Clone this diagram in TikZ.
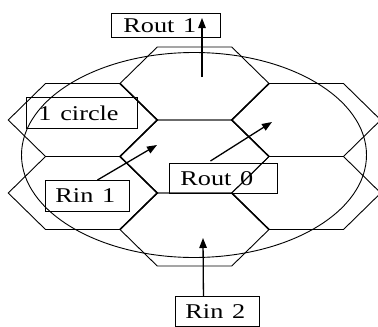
\documentclass[tikz,border=0pt]{standalone}
\usepackage{fontspec}
\setmainfont{Liberation Serif}
\usetikzlibrary{arrows.meta,calc}
\begin{document}
\begin{tikzpicture}[x=1pt,y=-1pt,
  hexline/.style={line width=0.9pt, line join=miter},
  cellwall/.style={line width=1.5pt, line join=miter},
  labelbox/.style={draw, line width=0.9pt, rectangle, anchor=north west,
    inner ysep=0pt, align=left, font=\fontsize{21}{23}\selectfont},
  pointer/.style={line width=1.3pt, -{Triangle[length=10pt,width=7.5pt]}},
]
\useasboundingbox (0,0) rectangle (378,327);

% honeycomb of seven flattened hexagonal cells
\foreach \cx/\cy in {194.5/156.5, 194.5/83.5, 194.5/229.5,
                     82.75/120, 82.75/193, 306.25/120, 306.25/193}
  \draw[hexline] (\cx-74.5,\cy) -- (\cx-37.25,\cy-36.5) -- (\cx+37.25,\cy-36.5)
    -- (\cx+74.5,\cy) -- (\cx+37.25,\cy+36.5) -- (\cx-37.25,\cy+36.5) -- cycle;

% heavier walls of the central column
\draw[cellwall] (120,83.5) -- (157.25,120) -- (120,156.5) -- (157.25,193) -- (120,229.5);
\draw[cellwall] (269,83.5) -- (231.75,120) -- (269,156.5);
\draw[cellwall] (231.75,193) -- (269,229.5);

% coverage ellipse
\draw[hexline] (194,155) ellipse [x radius=172.5, y radius=102.5];

% labels
\node[labelbox, inner xsep=12pt, text width=85pt, minimum height=24pt] (rout1) at (111,13)
  {\scalebox{1.25}[1]{Rout 1}};
\node[labelbox, inner xsep=12pt, text width=87pt, minimum height=31pt] (circ) at (26,97)
  {\scalebox{1.25}[1]{1 circle}};
\node[labelbox, inner xsep=10pt, text width=64pt, minimum height=31pt] (rin1) at (45,180)
  {\scalebox{1.25}[1]{Rin 1}};
\node[labelbox, inner xsep=11pt, text width=86pt, minimum height=30pt] (rout0) at (169,163)
  {\scalebox{1.25}[1]{Rout 0}};
\node[labelbox, inner xsep=10pt, text width=64pt, minimum height=30pt] (rin2) at (175,296)
  {\scalebox{1.25}[1]{Rin 2}};

% arrow end points
\coordinate (r1tail) at (202,77);
\coordinate (r1tip) at (202,18);
\coordinate (in1tip) at (157,145);
\coordinate (out0tip) at (272,122);
\coordinate (in2tip) at (203,238);

% arrows
\draw[pointer] (r1tail) -- (r1tip);
\draw[pointer] ($(rin1.north)+(10,0)$) -- (in1tip);
\draw[pointer] ($(rout0.north)+(-13,-2)$) -- (out0tip);
\draw[pointer] ($(rin2.north)+(-14,0)$) -- (in2tip);
\end{tikzpicture}
\end{document}
